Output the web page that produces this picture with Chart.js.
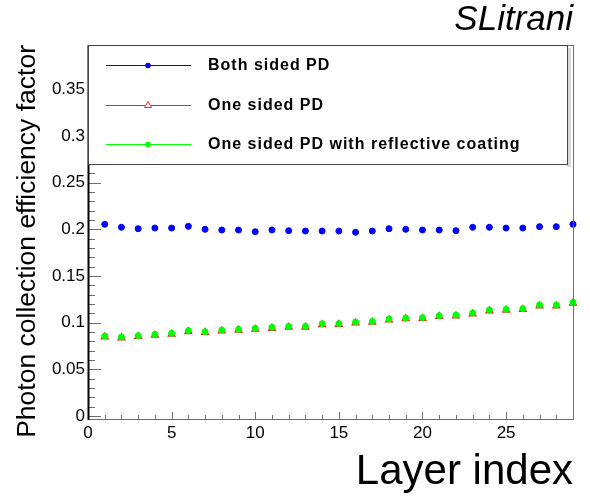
<!DOCTYPE html>
<html>
<head>
<meta charset="utf-8">
<script src="https://cdn.jsdelivr.net/npm/chart.js@4.4.1/dist/chart.umd.min.js"></script>
<style>
  html, body { margin: 0; padding: 0; background: #fff; }
  #chart { display: block; }
</style>
</head>
<body>
<canvas id="chart" width="590" height="496"></canvas>
<script>
const layers = [1, 2, 3, 4, 5, 6, 7, 8, 9, 10, 11, 12, 13, 14, 15, 16, 17, 18, 19, 20, 21, 22, 23, 24, 25, 26, 27, 28, 29];

const bothSided = [0.2054, 0.2022, 0.2007, 0.2014, 0.2014, 0.2032, 0.2000, 0.1993, 0.1993, 0.1975,
  0.1993, 0.1986, 0.1982, 0.1982, 0.1982, 0.1968, 0.1982, 0.2007, 0.2000, 0.1993,
  0.1993, 0.1986, 0.2022, 0.2022, 0.2014, 0.2014, 0.2029, 0.2029, 0.2054];

const oneSided = [0.0848, 0.0838, 0.0852, 0.0866, 0.0877, 0.0905, 0.0895, 0.0911, 0.0920, 0.0930,
  0.0940, 0.0951, 0.0952, 0.0979, 0.0981, 0.0997, 0.1005, 0.1029, 0.1042, 0.1045,
  0.1066, 0.1072, 0.1095, 0.1127, 0.1134, 0.1141, 0.1179, 0.1180, 0.1208];

const oneSidedCoated = [0.0857, 0.0846, 0.0861, 0.0875, 0.0886, 0.0915, 0.0903, 0.0921, 0.0929, 0.0939,
  0.0950, 0.0961, 0.0961, 0.0989, 0.0990, 0.1007, 0.1014, 0.1039, 0.1050, 0.1054,
  0.1075, 0.1082, 0.1104, 0.1136, 0.1143, 0.1150, 0.1189, 0.1189, 0.1218];

const seriesLabels = ["Both sided PD", "One sided PD", "One sided PD with reflective coating"];

const xTicks = [0, 5, 10, 15, 20, 25];
const yTicks = [0, 0.05, 0.1, 0.15, 0.2, 0.25, 0.3, 0.35];
const yTickLabels = ["0", "0.05", "0.1", "0.15", "0.2", "0.25", "0.3", "0.35"];

const toPoints = (values) => values.map((v, i) => ({ x: layers[i], y: v }));

// --- ROOT style ticks drawn inside the frame ---

const frameTicks = {
  id: "frameTicks",
  afterDatasetsDraw(chart) {
    const { ctx, chartArea: a, scales } = chart;
    const x = scales.x;
    const y = scales.y;
    ctx.save();
    ctx.strokeStyle = "#6e6e6e";
    ctx.lineWidth = 1;

    // frame
    ctx.strokeRect(a.left + 0.5, a.top + 0.5, a.right - a.left, a.bottom - a.top);

    // y ticks, minor every 0.01
    for (let i = 0; i <= 39; i++) {
      const py = Math.round(y.getPixelForValue(i / 100)) + 0.5;
      const len = i % 5 === 0 ? 13 : 7;
      ctx.beginPath();
      ctx.moveTo(a.left, py);
      ctx.lineTo(a.left + len, py);
      ctx.stroke();
    }

    // x ticks, minor every 1
    for (let i = 0; i <= 29; i++) {
      const px = Math.round(x.getPixelForValue(i)) + 0.5;
      const len = i % 5 === 0 ? 7 : 4;
      ctx.beginPath();
      ctx.moveTo(px, a.bottom);
      ctx.lineTo(px, a.bottom - len);
      ctx.stroke();
    }

    // left axis line
    ctx.strokeStyle = "#000";
    ctx.lineWidth = 2;
    ctx.beginPath();
    ctx.moveTo(a.left + 0.5, a.top);
    ctx.lineTo(a.left + 0.5, a.bottom + 1);
    ctx.stroke();
    ctx.restore();
  },
};

// --- Legend box over the top of the frame ---

const boxLegend = {
  id: "boxLegend",
  afterDraw(chart) {
    const { ctx, chartArea: a } = chart;
    const left = a.left;
    const top = a.top;
    const w = a.right - a.left - 6;
    const h = 119;

    ctx.save();
    ctx.fillStyle = "#d8d8d8";
    ctx.fillRect(left + w, top + 3, 4, h);
    ctx.fillStyle = "#fff";
    ctx.fillRect(left, top, w, h);
    ctx.strokeStyle = "#444";
    ctx.lineWidth = 1;
    ctx.strokeRect(left + 0.5, top + 0.5, w, h);

    const rows = [20, 60, 99];
    chart.data.datasets.forEach((ds, i) => {
      const ry = top + rows[i] + 0.5;
      ctx.strokeStyle = ds.borderColor;
      ctx.lineWidth = 1;
      ctx.beginPath();
      ctx.moveTo(left + 18, ry);
      ctx.lineTo(left + 103, ry);
      ctx.stroke();

      const mx = left + 60;
      if (ds.pointStyle === "triangle") {
        ctx.fillStyle = "#fff";
        ctx.beginPath();
        ctx.moveTo(mx, ry - 4);
        ctx.lineTo(mx + 3.5, ry + 2);
        ctx.lineTo(mx - 3.5, ry + 2);
        ctx.closePath();
        ctx.fill();
        ctx.stroke();
      } else {
        ctx.fillStyle = ds.backgroundColor;
        ctx.beginPath();
        ctx.arc(mx, ry, 2.8, 0, Math.PI * 2);
        ctx.fill();
      }

      ctx.fillStyle = "#000";
      ctx.font = "bold 16px 'Liberation Sans', Arial, sans-serif";
      ctx.letterSpacing = "1px";
      ctx.textBaseline = "middle";
      ctx.textAlign = "left";
      ctx.fillText(ds.label, left + 120, ry);
    });
    ctx.restore();
  },
};

const ctx = document.getElementById("chart");

new Chart(ctx, {
  type: "scatter",
  data: {
    datasets: [
      {
        label: seriesLabels[0],
        data: toPoints(bothSided),
        pointStyle: "circle",
        backgroundColor: "#0000ff",
        borderColor: "#0000ff",
        pointRadius: 3,
        pointBorderWidth: 1,
        order: 0,
      },
      {
        label: seriesLabels[1],
        data: toPoints(oneSided),
        pointStyle: "triangle",
        backgroundColor: "rgba(0,0,0,0)",
        borderColor: "#ff2020",
        pointRadius: 4,
        pointBorderWidth: 1.2,
        order: 2,
      },
      {
        label: seriesLabels[2],
        data: toPoints(oneSidedCoated),
        pointStyle: "circle",
        backgroundColor: "#00ff00",
        borderColor: "#00ff00",
        pointRadius: 3,
        pointBorderWidth: 1,
        order: 1,
      },
    ],
  },
  options: {
    responsive: false,
    animation: false,
    devicePixelRatio: 1,
    clip: false,
    layout: {
      padding: { left: 0, right: 17, top: 3, bottom: 0 },
    },
    plugins: {
      legend: { display: false },
      tooltip: { enabled: false },
      title: {
        display: true,
        text: "SLitrani",
        align: "end",
        color: "#000",
        font: { family: "'Liberation Sans', Arial, sans-serif", size: 35, style: "italic", weight: "normal", lineHeight: 1 },
        padding: { top: 0, bottom: 7 },
      },
    },
    scales: {
      x: {
        type: "linear",
        min: 0,
        max: 29,
        afterFit: (s) => { s.height = 77; },
        afterBuildTicks: (s) => { s.ticks = xTicks.map((v) => ({ value: v })); },
        grid: { display: false, drawTicks: false },
        border: { display: false },
        ticks: {
          color: "#000",
          padding: 4,
          maxRotation: 0,
          font: { family: "'Liberation Sans', Arial, sans-serif", size: 17 },
          callback: (v) => String(v),
        },
        title: {
          display: true,
          text: "Layer index",
          align: "end",
          color: "#000",
          font: { family: "'Liberation Sans', Arial, sans-serif", size: 42, lineHeight: 1 },
          padding: { top: 0, bottom: 3 },
        },
      },
      y: {
        type: "linear",
        min: -0.0032,
        max: 0.3975,
        afterFit: (s) => { s.width = 88; },
        afterBuildTicks: (s) => { s.ticks = yTicks.map((v) => ({ value: v })); },
        grid: { display: false, drawTicks: false },
        border: { display: false },
        ticks: {
          color: "#000",
          padding: 3,
          font: { family: "'Liberation Sans', Arial, sans-serif", size: 17 },
          callback: (v, i) => yTickLabels[i],
        },
        title: {
          display: true,
          text: "Photon collection efficiency factor",
          align: "end",
          color: "#000",
          font: { family: "'Liberation Sans', Arial, sans-serif", size: 26.5, lineHeight: 1 },
          padding: { top: 14, bottom: 0 },
        },
      },
    },
  },
  plugins: [frameTicks, boxLegend],
});
</script>
</body>
</html>
